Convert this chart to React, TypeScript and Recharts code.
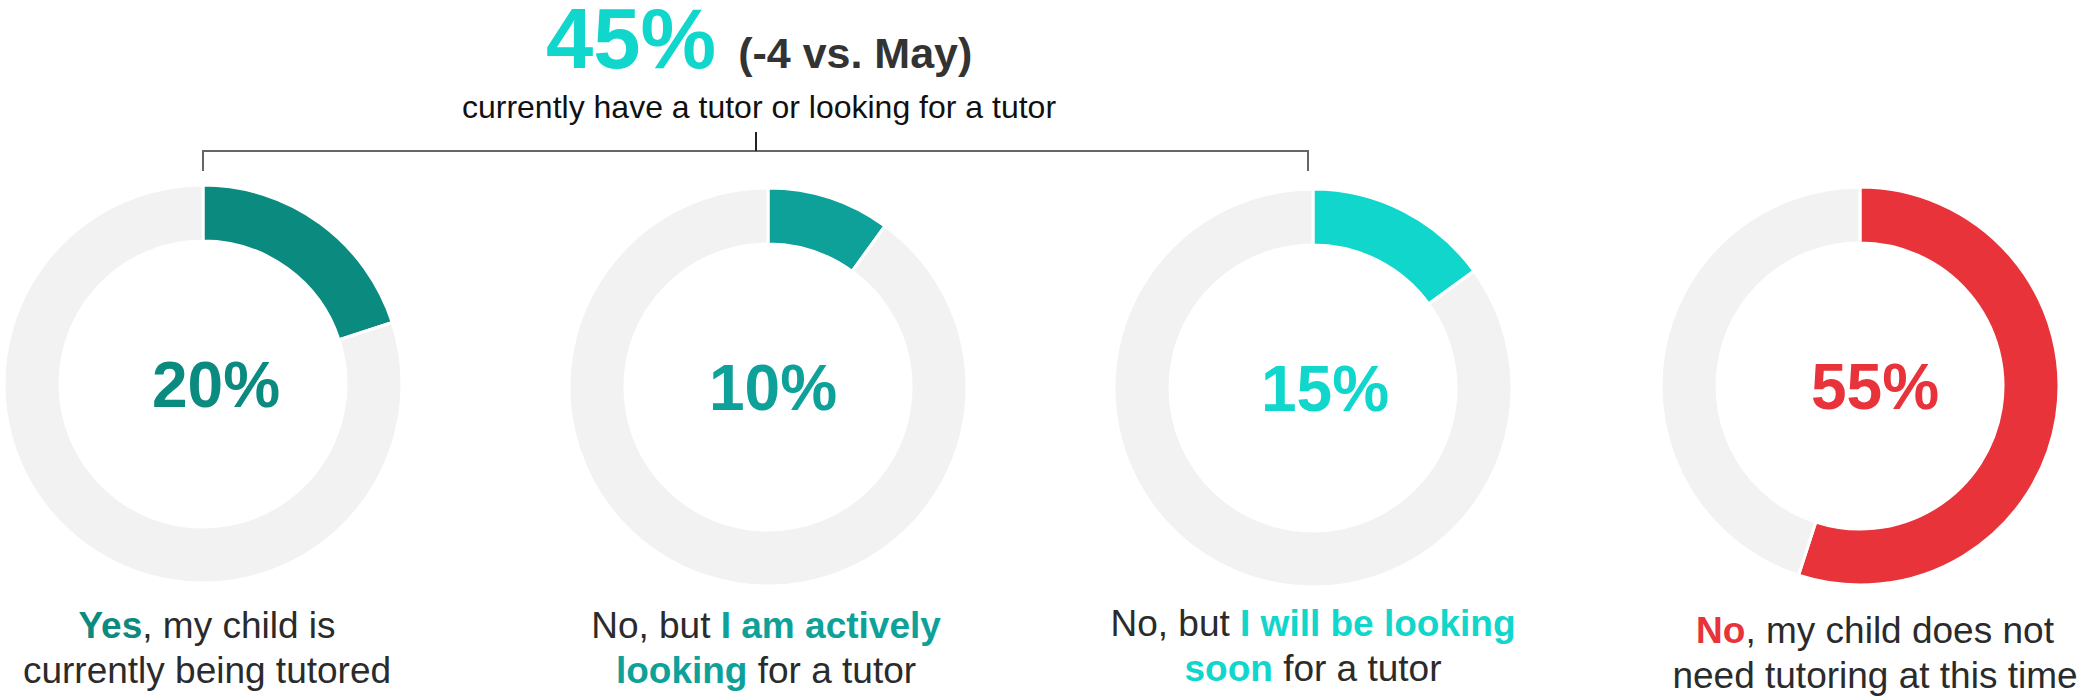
import React from 'react';
import { PieChart, Pie, Cell } from 'recharts';

const W = 2082;
const H = 696;
const FONT = '"Liberation Sans", Arial, Helvetica, sans-serif';

// Data
const categories = ['Currently tutored', 'Actively looking', 'Looking soon', 'Not needed'];
const shares = [20, 10, 15, 55];
const headlineValue = 45;
const headlineChange = '(-4 vs. May)';
const headlineSub = 'currently have a tutor or looking for a tutor';
const labelLines: { text: string; bold?: boolean }[][][] = [
  [[{ text: 'Yes', bold: true }, { text: ', my child is' }], [{ text: 'currently being tutored' }]],
  [[{ text: 'No, but ' }, { text: 'I am actively', bold: true }], [{ text: 'looking', bold: true }, { text: ' for a tutor' }]],
  [[{ text: 'No, but ' }, { text: 'I will be looking', bold: true }], [{ text: 'soon', bold: true }, { text: ' for a tutor' }]],
  [[{ text: 'No', bold: true }, { text: ', my child does not' }], [{ text: 'need tutoring at this time' }]],
];

// Styles
const colors = ['#0B8A7F', '#0DA19A', '#10D6CC', '#E8333A'];
const restColor = '#F2F2F2';
const centers = [
  { x: 203, y: 384 },
  { x: 768, y: 387 },
  { x: 1313, y: 388 },
  { x: 1860, y: 386 },
];
const valueLabelX = [216, 773, 1325, 1875];
const labelX = [207, 766, 1313, 1875];
const labelBase = [638, 638, 636, 643];

export default function App() {
  return (
    <div style={{ position: 'absolute', left: 0, top: 0, width: W, height: H, background: '#fff' }}>
      <PieChart width={W} height={H} margin={{ top: 0, right: 0, bottom: 0, left: 0 }}>
        {shares.map((v, i) => (
          <Pie
            key={categories[i]}
            data={[
              { name: categories[i], value: v },
              { name: 'Other', value: 100 - v },
            ]}
            dataKey="value"
            cx={centers[i].x}
            cy={centers[i].y}
            innerRadius={143}
            outerRadius={199}
            startAngle={90}
            endAngle={-270}
            stroke="#fff"
            strokeWidth={3}
            isAnimationActive={false}
          >
            <Cell fill={colors[i]} />
            <Cell fill={restColor} />
          </Pie>
        ))}
      </PieChart>
      <svg
        width={W}
        height={H}
        style={{ position: 'absolute', left: 0, top: 0, pointerEvents: 'none' }}
        fontFamily={FONT}
      >
        <text x={546} y={68} fontWeight="bold">
          <tspan fontSize={85} fill={colors[2]}>{headlineValue}%</tspan>
          <tspan fontSize={43} fill="#333" dx={22}>{headlineChange}</tspan>
        </text>
        <text x={759} y={118} fontSize={32} fill="#111" textAnchor="middle">
          {headlineSub}
        </text>
        <polyline
          points={`${centers[0].x},171 ${centers[0].x},151 1308,151 1308,171`}
          fill="none"
          stroke="#666"
          strokeWidth={2}
        />
        <line x1={756} y1={132} x2={756} y2={151} stroke="#222" strokeWidth={2} />
        {shares.map((v, i) => (
          <text
            key={'v' + i}
            x={valueLabelX[i]}
            y={centers[i].y + 23}
            fontSize={64}
            fontWeight="bold"
            fill={colors[i]}
            textAnchor="middle"
          >
            {v}%
          </text>
        ))}
        {labelLines.map((lines, i) =>
          lines.map((parts, j) => (
            <text
              key={'l' + i + '-' + j}
              x={labelX[i]}
              y={labelBase[i] + j * 45}
              fontSize={37}
              fill="#2b2b2b"
              textAnchor="middle"
            >
              {parts.map((p, k) => (
                <tspan
                  key={k}
                  fontWeight={p.bold ? 'bold' : 'normal'}
                  fill={p.bold ? colors[i] : '#2b2b2b'}
                >
                  {p.text}
                </tspan>
              ))}
            </text>
          ))
        )}
      </svg>
    </div>
  );
}
